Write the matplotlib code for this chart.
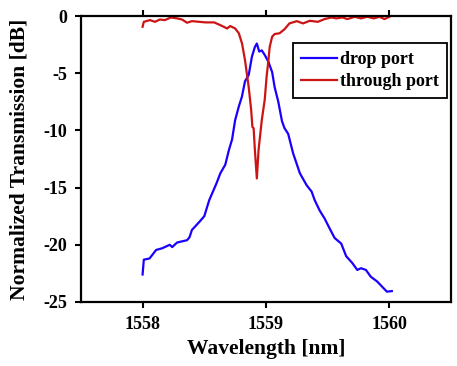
import matplotlib
matplotlib.use("Agg")
import matplotlib.pyplot as plt

# drop port trace (wavelength nm, transmission dB)
drop_wl = [1558.00, 1558.01, 1558.056, 1558.11, 1558.16, 1558.22, 1558.24, 1558.28,
           1558.36, 1558.38, 1558.40, 1558.46, 1558.50, 1558.54, 1558.56, 1558.60,
           1558.63, 1558.67, 1558.70, 1558.725, 1558.75, 1558.78, 1558.805, 1558.83,
           1558.86, 1558.886, 1558.91, 1558.926, 1558.945, 1558.966, 1558.99, 1559.02,
           1559.05, 1559.07, 1559.10, 1559.13, 1559.15, 1559.18, 1559.22, 1559.275,
           1559.33, 1559.37, 1559.395, 1559.435, 1559.475, 1559.515, 1559.556, 1559.61,
           1559.65, 1559.70, 1559.74, 1559.77, 1559.81, 1559.85, 1559.90, 1559.94,
           1559.98, 1560.02]
drop_db = [-22.6, -21.3, -21.2, -20.45, -20.3, -20.0, -20.2, -19.8,
           -19.6, -19.35, -18.7, -18.0, -17.5, -16.1, -15.6, -14.6,
           -13.75, -13.0, -11.7, -10.8, -9.1, -7.9, -7.05, -5.7,
           -5.15, -3.55, -2.7, -2.4, -3.1, -3.0, -3.4, -4.0,
           -4.9, -6.2, -7.5, -9.2, -9.8, -10.3, -12.0, -13.75,
           -14.8, -15.35, -16.1, -17.0, -17.7, -18.55, -19.4, -19.9,
           -21.0, -21.6, -22.2, -22.05, -22.2, -22.8, -23.2, -23.65,
           -24.1, -24.05]

# through port trace
thru_wl = [1558.00, 1558.01, 1558.06, 1558.10, 1558.14, 1558.18, 1558.23, 1558.28,
           1558.32, 1558.36, 1558.40, 1558.46, 1558.51, 1558.58, 1558.63, 1558.685,
           1558.71, 1558.75, 1558.78, 1558.806, 1558.83, 1558.86, 1558.88, 1558.89,
           1558.90, 1558.91, 1558.926, 1558.94, 1558.966, 1558.99, 1559.005, 1559.02,
           1559.03, 1559.05, 1559.07, 1559.11, 1559.15, 1559.19, 1559.25, 1559.30,
           1559.355, 1559.42, 1559.475, 1559.53, 1559.57, 1559.62, 1559.66, 1559.72,
           1559.77, 1559.82, 1559.875, 1559.92, 1559.96, 1560.01]
thru_db = [-0.93, -0.5, -0.35, -0.5, -0.3, -0.35, -0.12, -0.2,
           -0.3, -0.58, -0.44, -0.5, -0.55, -0.55, -0.79, -1.08,
           -0.87, -1.08, -1.5, -2.4, -3.85, -6.2, -8.2, -9.7,
           -9.8, -11.7, -14.2, -11.7, -9.1, -7.3, -5.3, -3.85,
           -2.7, -1.8, -1.57, -1.5, -1.15, -0.64, -0.44, -0.64,
           -0.41, -0.5, -0.26, -0.12, -0.2, -0.12, -0.26, -0.06,
           -0.2, -0.06, -0.2, -0.06, -0.26, 0.0]

x_ticks = [1558, 1559, 1560]
y_ticks = [0, -5, -10, -15, -20, -25]

plt.rcParams['font.family'] = ['Liberation Serif', 'DejaVu Serif']
plt.rcParams['font.weight'] = 'bold'

fig = plt.figure(figsize=(4.57, 3.66), dpi=100)
ax = fig.add_axes([0.177, 0.175, 0.81, 0.781])

ax.plot(drop_wl, drop_db, color='#1a00ff', lw=1.6, label='drop port')
ax.plot(thru_wl, thru_db, color='#cc1414', lw=1.6, label='through port')

ax.set_xlim(1557.5, 1560.5)
ax.set_ylim(-25, 0)
ax.set_xticks(x_ticks)
ax.set_yticks(y_ticks)
ax.set_yticklabels([str(v) for v in y_ticks])
ax.tick_params(axis='both', direction='out', length=4, width=1.5, labelsize=13)
ax.tick_params(axis='y', pad=6)
ax.tick_params(axis='x', top=True, pad=6)
for s in ax.spines.values():
    s.set_linewidth(1.6)

ax.set_xlabel('Wavelength [nm]', fontsize=15.5, fontweight='bold', va='top')
ax.xaxis.set_label_coords(0.5, -0.128)
ax.set_ylabel('Normalized Transmission [dB]', fontsize=15.5, fontweight='bold')
ax.yaxis.set_label_coords(-0.138, 0.5)

leg = ax.legend(loc='upper right', bbox_to_anchor=(0.99, 0.906), fontsize=13,
                fancybox=False, framealpha=1, edgecolor='black',
                borderpad=0.45, handlelength=2.0, handletextpad=0.2, labelspacing=0.28,
                borderaxespad=0)
leg.get_frame().set_linewidth(1.3)

fig.savefig('out.png', dpi=100)
